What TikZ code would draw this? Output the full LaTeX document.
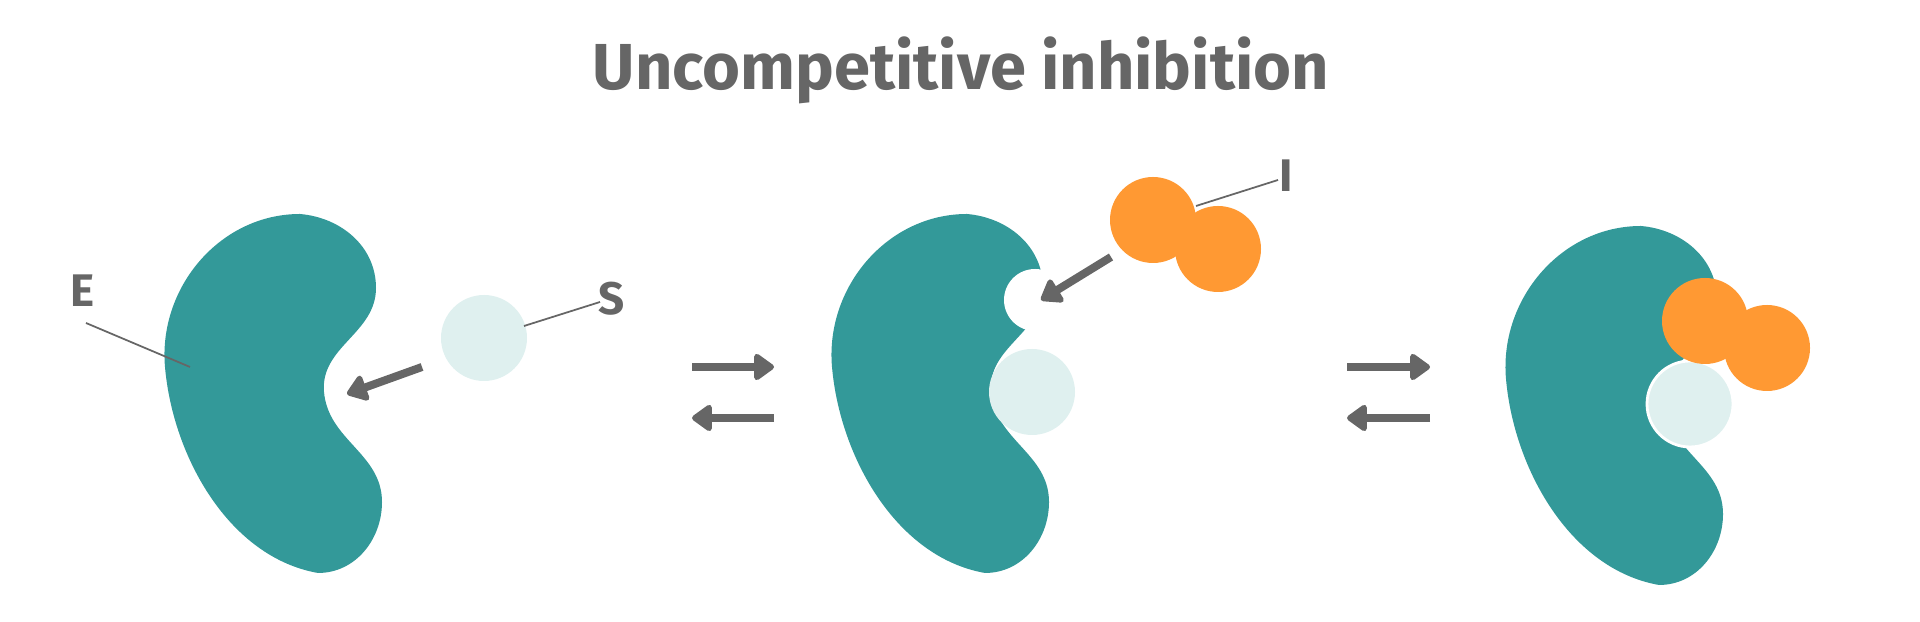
\documentclass[tikz,border=0pt]{standalone}
\usepackage{fontspec}
\setmainfont{Fira Sans}
\usetikzlibrary{arrows.meta}
\definecolor{teal1}{HTML}{339999}
\definecolor{pale}{HTML}{DFF0EF}
\definecolor{orng}{HTML}{FF9933}
\definecolor{grey1}{HTML}{666666}
\tikzstyle{enzyme}=[fill=teal1,draw=none]
\tikzstyle{substrate}=[circle,fill=pale,draw=none,minimum size=0.86cm,inner sep=0pt]
\tikzstyle{inhibitor}=[circle,fill=orng,draw=none,minimum size=0.86cm,inner sep=0pt]
\tikzstyle{label}=[text=grey1,font=\fontsize{13}{13}\selectfont\bfseries,inner sep=0pt]
\tikzstyle{pointer}=[draw=grey1,line width=0.5pt]
\tikzstyle{arrow}=[draw=grey1,line width=0.08cm,-{Triangle[length=0.22cm,width=0.3cm,round]}]
\newcommand{\enzymeshape}[2]{%
  \path[enzyme,shift={(#1,#2)}] (3.00,-2.14)
    to[out=-5,in=90] (3.76,-2.88)
    to[out=-90,in=95] (3.24,-3.92)
    to[out=-85,in=90] (3.82,-5.02)
    to[out=-90,in=0] (3.18,-5.73)
    to[out=170,in=-85,looseness=0.9] (1.65,-3.67)
    to[out=95,in=180] cycle;}
\begin{document}
\begin{tikzpicture}
  \useasboundingbox (0,0) rectangle (19.2,-6.22);
  \node (title) at (9.61,-0.70) [text=grey1,font=\fontsize{18.5}{18.5}\selectfont\bfseries] {Uncompetitive inhibition};

  % E + S
  \enzymeshape{0}{0}
  \node (s1) [substrate] at (4.84,-3.38) {};
  \node (lE) [label] at (0.83,-2.91) {E};
  \node (lS) [label] at (6.12,-2.99) {S};
  \coordinate (pE) at (1.90,-3.67);
  \coordinate (pS) at (5.24,-3.26);
  \draw [pointer] (0.86,-3.23) -- (pE);
  \draw [pointer] (6.00,-3.02) -- (pS);
  \coordinate (a1s) at (4.22,-3.67);
  \coordinate (a1e) at (3.47,-3.94);
  \draw [arrow] (a1s) -- (a1e);

  % equilibrium 1
  \coordinate (q1a) at (6.92,-3.67);
  \coordinate (q1b) at (7.74,-3.67);
  \coordinate (q1c) at (7.74,-4.18);
  \coordinate (q1d) at (6.92,-4.18);
  \draw [arrow] (q1a) -- (q1b);
  \draw [arrow] (q1c) -- (q1d);

  % ES + I
  \enzymeshape{6.67}{0}
  \fill[white] (10.35,-3.00) circle (0.31);
  \node (s2) [substrate] at (10.32,-3.92) {};
  \node (i2a) [inhibitor] at (11.53,-2.20) {};
  \node (i2b) [inhibitor] at (12.18,-2.49) {};
  \node (lI) [label] at (12.86,-1.76) {I};
  \coordinate (pI) at (11.96,-2.06);
  \draw [pointer] (12.78,-1.80) -- (pI);
  \coordinate (a2s) at (11.11,-2.57);
  \coordinate (a2e) at (10.41,-3.00);
  \draw [arrow] (a2s) -- (a2e);

  % equilibrium 2
  \coordinate (q2a) at (13.47,-3.67);
  \coordinate (q2b) at (14.30,-3.67);
  \coordinate (q2c) at (14.30,-4.18);
  \coordinate (q2d) at (13.47,-4.18);
  \draw [arrow] (q2a) -- (q2b);
  \draw [arrow] (q2c) -- (q2d);

  % ESI
  \enzymeshape{13.41}{-0.12}
  \node (s3) [substrate,draw=white,line width=0.8pt] at (16.90,-4.04) {};
  \node (i3a) [inhibitor] at (17.05,-3.21) {};
  \node (i3b) [inhibitor] at (17.67,-3.48) {};
\end{tikzpicture}
\end{document}
